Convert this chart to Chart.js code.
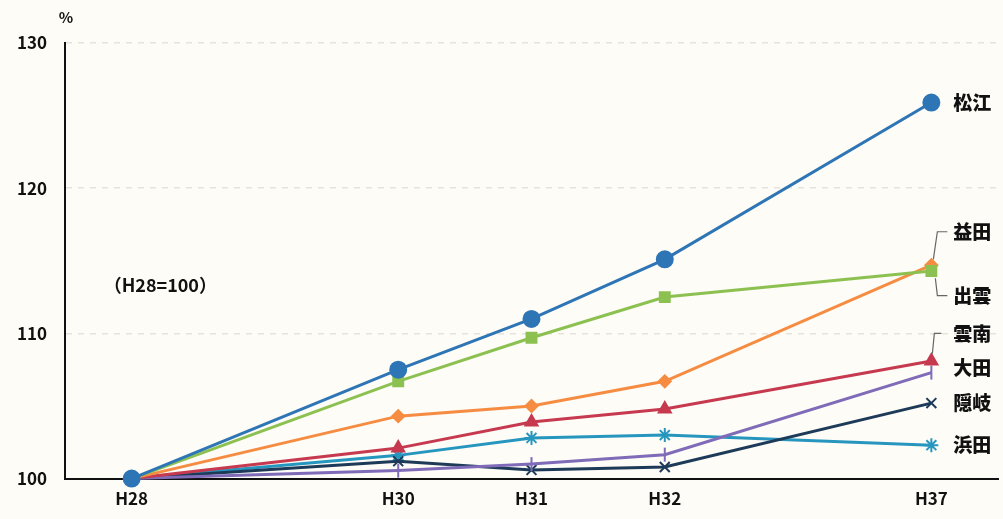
<!DOCTYPE html>
<html>
<head>
<meta charset="utf-8">
<script src="https://cdn.jsdelivr.net/npm/chart.js@4"></script>
<style>
  html, body { margin: 0; padding: 0; background: #fdfcf6; overflow: hidden; }
  #wrap { width: 1003px; height: 519px; position: relative; overflow: hidden; }
  canvas { display: block; }
</style>
</head>
<body>
<div id="wrap"><canvas id="growth"></canvas></div>
<script>
// 年度 (H29, H33-36 are empty slots so spacing matches the original)
const years = ['H28', '', 'H30', '', '', '', 'H37'];
const yearLabels = ['H28', '', 'H30', 'H31', 'H32', '', 'H37'];

const matsue  = [100, null, 107.5, 111.0, 115.1, null, 125.9];
const izumo   = [100, null, 106.7, 109.7, 112.5, null, 114.3];
const masuda  = [100, null, 104.3, 105.0, 106.7, null, 114.7];
const unnan   = [100, null, 102.1, 103.9, 104.8, null, 108.1];
const oda     = [100, null, 100.55, 101.0, 101.65, null, 107.3];
const oki     = [100, null, 101.2, 100.6, 100.8, null, 105.2];
const hamada  = [100, null, 101.6, 102.8, 103.0, null, 102.3];

const seriesNames = ['松江', '出雲', '益田', '雲南', '大田', '隠岐', '浜田'];
// where each name label sits on the value axis
const nameLevels = [125.9, 112.6, 117.0, 110.0, 107.6, 105.2, 102.3];

const yTicks = [100, 110, 120, 130];

const font = "'Noto Sans CJK JP', 'Noto Sans', sans-serif";

function ds(label, data, color, style, radius, extra) {
    return Object.assign({
        label: label,
        data: data,
        borderColor: color,
        backgroundColor: color,
        pointBackgroundColor: color,
        pointBorderColor: color,
        pointStyle: style,
        pointRadius: radius,
        borderWidth: 3,
        pointBorderWidth: 2,
        spanGaps: true,
        tension: 0,
        clip: false
    }, extra || {});
}

const labelPlugin = {
    id: 'sideLabels',
    afterDatasetsDraw(chart) {
        const c = chart.ctx;
        const y = chart.scales.y;
        const x = chart.scales.x;
        const lastX = x.getPixelForValue(6);
        c.save();
        c.fillStyle = '#111';
        c.font = "900 19px " + font;
        c.textBaseline = 'middle';
        c.textAlign = 'left';
        seriesNames.forEach((n, i) => {
            c.fillText(n, lastX + 22, y.getPixelForValue(nameLevels[i]));
        });
        // leader lines for crowded labels
        c.strokeStyle = '#666';
        c.lineWidth = 1.2;
        const leader = (fromVal, toVal, dx1, dxc, dx2) => {
            c.beginPath();
            c.moveTo(lastX + dx1, y.getPixelForValue(fromVal));
            c.lineTo(lastX + dxc, y.getPixelForValue(toVal));
            c.lineTo(lastX + dx2, y.getPixelForValue(toVal));
            c.stroke();
        };
        leader(masuda[6] + 0.4, nameLevels[2], 2, 6, 16);
        leader(izumo[6] - 0.5, nameLevels[1], 4, 6, 16);
        leader(unnan[6] + 0.5, nameLevels[3], 1, 3, 10);

        c.font = "bold 18px " + font;
        c.fillText('（H28=100）', x.getPixelForValue(0) - 28, y.getPixelForValue(113.3));
        c.font = "bold 15px " + font;
        c.textAlign = 'center';
        c.fillText('%', chart.chartArea.left + 1, y.getPixelForValue(130) - 26);
        c.restore();
    }
};

new Chart(document.getElementById('growth').getContext('2d'), {
    type: 'line',
    data: {
        labels: years,
        datasets: [
            ds('松江', matsue, '#2e75b6', 'circle', 8),
            ds('出雲', izumo, '#8cc152', 'rect', 7),
            ds('益田', masuda, '#f58c42', 'rectRot', 6),
            ds('雲南', unnan, '#c6394e', 'triangle', 7),
            ds('大田', oda, '#7f6bb8', 'line', 7, { pointRotation: 90 }),
            ds('隠岐', oki, '#1d3a58', 'crossRot', 7),
            ds('浜田', hamada, '#2796bf', 'star', 7)
        ]
    },
    options: {
        responsive: true,
        maintainAspectRatio: false,
        animation: false,
        layout: { autoPadding: false, padding: { top: 43, right: 5, left: 0, bottom: 0 } },
        plugins: {
            legend: { display: false },
            tooltip: { enabled: false }
        },
        scales: {
            x: {
                offset: true,
                grid: { display: false, drawTicks: false },
                border: { display: true, color: '#111', width: 2 },
                ticks: {
                    autoSkip: false,
                    maxRotation: 0,
                    padding: 10,
                    color: '#111',
                    font: { family: font, size: 17, weight: 'bold' },
                    callback: (v, i) => yearLabels[i]
                }
            },
            y: {
                min: 100,
                max: 130,
                afterFit: (s) => { s.width = 65; },
                afterBuildTicks: (s) => { s.ticks = yTicks.map(v => ({ value: v })); },
                grid: {
                    drawTicks: false,
                    color: (ctx) => ctx.tick && ctx.tick.value === 100 ? 'rgba(0,0,0,0)' : '#e4e4dc',
                    lineWidth: 1.5
                },
                border: { display: true, color: '#111', width: 2, dash: [6, 6] },
                ticks: {
                    padding: 18,
                    color: '#111',
                    font: { family: font, size: 17, weight: 'bold' }
                }
            }
        }
    },
    plugins: [labelPlugin]
});
</script>
</body>
</html>
